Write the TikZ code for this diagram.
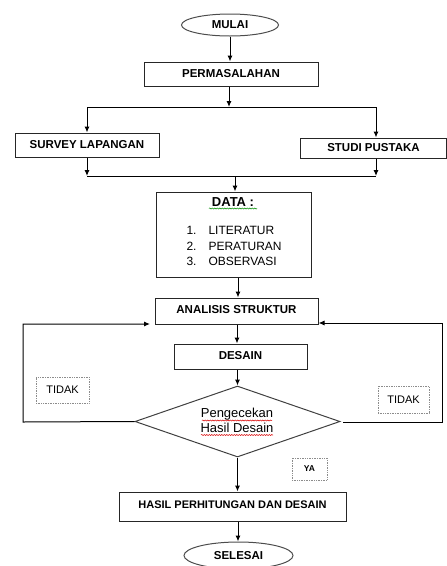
\documentclass[tikz,border=0pt]{standalone}
\usepackage{fontspec}
\setmainfont{Liberation Sans}
\usetikzlibrary{arrows.meta,shapes.geometric,decorations.pathmorphing}
\begin{document}
\begin{tikzpicture}[x=1pt,y=-1pt,
  line width=1pt,
  arr/.style={-{Latex[length=6pt,width=5pt]}},
  box/.style={draw=black!85,line width=1pt,inner sep=0pt,font=\fontsize{11.5}{13}\selectfont\bfseries},
  oval/.style={ellipse,draw=black!70,line width=1pt,inner sep=0pt,font=\fontsize{11.5}{13}\selectfont\bfseries},
  dotbox/.style={draw=black!45,densely dotted,line width=0.7pt,inner sep=0pt},
  wavyred/.style={draw=red!85!black,line width=0.5pt,decorate,decoration={snake,amplitude=0.6pt,segment length=2.5pt}},
  wavygreen/.style={draw=green!55!black,line width=0.5pt,decorate,decoration={snake,amplitude=0.6pt,segment length=2.5pt}},
  plain/.style={inner sep=0pt,font=\fontsize{12}{14}\selectfont}
]
\useasboundingbox (0,0) rectangle (447,566);

% nodes
\node[oval,minimum width=97pt,minimum height=22pt] (mulai) at (230,25) {MULAI};
\node[box,minimum width=174pt,minimum height=24pt] (perm) at (231,74) {\raisebox{2pt}{PERMASALAHAN}};
\node[box,minimum width=144pt,minimum height=24pt] (survey) at (87,145) {SURVEY LAPANGAN};
\node[box,minimum width=146pt,minimum height=20pt] (studi) at (373.5,148) {STUDI PUSTAKA};
\node[draw=black!85,line width=1pt,minimum width=155pt,minimum height=85pt,inner sep=0pt] (data) at (233.5,234.5) {};
\node[box,minimum width=163pt,minimum height=26pt] (anal) at (236.5,311) {\raisebox{4pt}{ANALISIS STRUKTUR}};
\node[box,minimum width=133pt,minimum height=25pt] (desain) at (240.5,356.5) {\raisebox{2pt}{DESAIN}};
\node[diamond,draw=black!75,line width=1pt,minimum width=205pt,minimum height=71pt,inner sep=0pt,aspect=2.9] (cek) at (237.5,421.5) {};
\node[box,minimum width=227pt,minimum height=29pt] (hasil) at (232.5,506.5) {\fontsize{11}{13}\selectfont\raisebox{4pt}{HASIL PERHITUNGAN DAN DESAIN}};
\node[oval,minimum width=109pt,minimum height=27pt] (selesai) at (238.5,555.5) {SELESAI};

% DATA content
\node[plain,anchor=base,font=\fontsize{13}{15}\selectfont\bfseries] (datat) at (233,206) {DATA :};
\draw[wavygreen] (209,208.5) -- (257,208.5);
\node[plain,anchor=base west] (n1) at (186,234) {1.};
\node[plain,anchor=base west] (l1) at (208,234) {LITERATUR};
\node[plain,anchor=base west] (n2) at (186,250) {2.};
\node[plain,anchor=base west] (l2) at (208,250) {PERATURAN};
\node[plain,anchor=base west] (n3) at (186,265) {3.};
\node[plain,anchor=base west] (l3) at (208,265) {OBSERVASI};

% diamond text
\node[plain,anchor=base,font=\fontsize{13}{15}\selectfont] (cek1) at (237,417) {Pengecekan};
\node[plain,anchor=base,font=\fontsize{13}{15}\selectfont] (cek2) at (237,432) {Hasil Desain};
\draw[wavyred] (202,420.5) -- (272,420.5);
\draw[wavyred] (201,435) -- (273,435);

% label boxes
\node[dotbox,minimum width=53pt,minimum height=26pt,font=\fontsize{11}{13}\selectfont] (tidak1) at (62.5,390) {TIDAK};
\node[dotbox,minimum width=51pt,minimum height=27pt,font=\fontsize{11}{13}\selectfont] (tidak2) at (403.5,399.5) {TIDAK};
\node[dotbox,minimum width=35pt,minimum height=22pt,font=\fontsize{8.5}{10}\selectfont\bfseries] (ya) at (309.5,469) {YA};

% coordinates
\coordinate (j1) at (229,107);
\coordinate (jl) at (87,107);
\coordinate (jr) at (376,107);
\coordinate (k1) at (235,176);
\coordinate (kl) at (87,176);
\coordinate (kr) at (376,176);
\coordinate (lb) at (23,422);
\coordinate (lt) at (23,324);
\coordinate (lend) at (150,324);
\coordinate (rs) at (343,422);
\coordinate (rb) at (442,422);
\coordinate (rt) at (442,323);

% connectors
\draw[arr] (mulai.south) -- (mulai.south |- perm.north);
\draw[arr] (perm.south -| j1) -- (j1);
\draw (jl) -- (jr);
\draw[arr] (jl) -- (jl |- survey.north);
\draw[arr] (jr) -- (jr |- studi.north);
\draw[arr] (survey.south -| kl) -- (kl);
\draw[arr] (studi.south -| kr) -- (kr);
\draw (kl) -- (kr);
\draw[arr] (k1) -- (k1 |- data.north);
\draw[arr] (data.south -| 238,0) -- (238,0 |- anal.north);
\draw[arr] (anal.south -| 237,0) -- (237,0 |- desain.north);
\draw[arr] (desain.south -| cek.north) -- (cek.north);
\draw[arr] (cek.south) -- (cek.south |- hasil.north);
\draw[arr] (hasil.south -| 238,0) -- (238,0 |- selesai.north);
\draw[arr] (cek.west) -- (lb) -- (lt) -- (lend);
\draw[arr] (rs) -- (rb) -- (rt) -- (rt -| anal.east);
\end{tikzpicture}
\end{document}
